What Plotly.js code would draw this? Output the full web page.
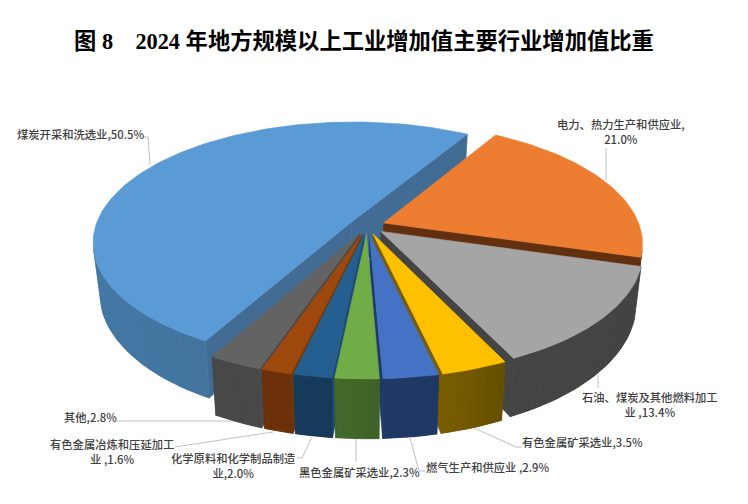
<!DOCTYPE html>
<html><head><meta charset="utf-8">
<script src="https://cdn.plot.ly/plotly-3.0.1.min.js"></script>
<style>html,body{margin:0;padding:0;background:#fff}#c{width:748px;height:504px}</style>
</head><body><div id="c"></div>
<script>
// ---- data (clockwise from first slice) ----
const categories = ['电力、热力生产和供应业','石油、煤炭及其他燃料加工业','有色金属矿采选业','燃气生产和供应业','黑色金属矿采选业','化学原料和化学制品制造业','有色金属冶炼和压延加工业','其他','煤炭开采和洗选业'];
const shares = [21.0,13.4,3.5,2.9,2.3,2.0,1.6,2.8,50.5];
const labelText = ['电力、热力生产和供应业,<br>21.0%','石油、煤炭及其他燃料加工<br>业 ,13.4%','有色金属矿采选业,3.5%','燃气生产和供应业 ,2.9%','黑色金属矿采选业,2.3%','化学原料和化学制品制造<br>业,2.0%','有色金属冶炼和压延加工<br>业 ,1.6%','其他,2.8%','煤炭开采和洗选业,50.5%'];
// ---- styles ----
const topColors = ['#ed7d31','#a5a5a5','#ffc000','#4472c4','#70ad47','#255e91','#9e480e','#636363','#5b9bd5'];
const wallFrom = ['#63300f','#444444','#7a5c00','#203864','#43682b','#163a59','#6c300a','#484848','#4b84ba'];
const wallTo   = ['#63300f','#444444','#655000','#203864','#3f6228','#163a59','#6c300a','#484848','#42749f'];
const cutColors= ['#63300f','#444444','#7a5c00','#1f3a6a','#43682b','#1c4a73','#6c3a0a','#4a4a4a','#426c93'];
// ---- view ----
const cx=367, cy=226, S=256, ST=117.7, K=0.165, H=49.3, SQ=0.024, EXPL=0.07, START=30.7;
const labelX=[621,650,582,488,359,233,112,90,80];
const labelY=[131,404,442,467,472,465,451,417,134];
const leaders=[[[606,148],[606,180]],[[598,375],[598,388]],[[474,428],[516,447],[522,447]],[[410,438],[419,471],[425,471]],[[356,438],[356,462]],[[312,437],[302,458],[297,458]],[[273,432],[175,447]],[[117,421],[237,421]],[[143,137],[148,137],[150,165]]];

function proj(u,v,z){const w=1+K*v;let x=cx+S*u/w;const y=cy-ST*v/w+H*z/w;x=cx+(x-cx)*(1-SQ*z);return [x,y];}
function hex(c){return [1,3,5].map(i=>parseInt(c.substr(i,2),16));}
function mix(a,b,t){const A=hex(a),B=hex(b);return 'rgb('+A.map((v,i)=>Math.round(v+(B[i]-v)*t)).join(',')+')';}
function area(p){let s=0;for(let i=0;i<p.length;i++){const a=p[i],b=p[(i+1)%p.length];s+=a[0]*b[1]-b[0]*a[1];}return s;}
const traces=[];
function poly(p,color,lw){traces.push({type:'scatter',mode:'lines',x:p.concat([p[0]]).map(q=>q[0]),y:p.concat([p[0]]).map(q=>q[1]),fill:'toself',fillcolor:color,line:{color:color,width:lw},hoverinfo:'skip',showlegend:false});}

const total=shares.reduce((a,b)=>a+b,0);
let acc=START;
const slices=shares.map((s,i)=>{const a0=acc,a1=acc+s/total*360;acc=a1;return {i,a0,a1,mid:(a0+a1)/2};});
slices.sort((a,b)=>Math.abs(b.mid-180)-Math.abs(a.mid-180));
slices.forEach(sl=>{
  const m=sl.mid*Math.PI/180, ox=EXPL*Math.sin(m), oy=EXPL*Math.cos(m);
  const pts=[];const n=Math.ceil((sl.a1-sl.a0)/1.5);
  for(let j=0;j<=n;j++){const t=(sl.a0+(sl.a1-sl.a0)*j/n)*Math.PI/180;pts.push([ox+Math.sin(t),oy+Math.cos(t)]);}
  const apex=[ox,oy];
  const q4=(a,b)=>[proj(a[0],a[1],0),proj(b[0],b[1],0),proj(b[0],b[1],1),proj(a[0],a[1],1)];
  const wall=(a,b,col,lw)=>{const q=q4(a,b);if(area(q)<0)poly(q,col,lw);};
  wall(pts[n],apex,cutColors[sl.i],0.6);
  wall(apex,pts[0],cutColors[sl.i],0.6);
  // solid backing for the visible part of the rim, so the gradient bands leave no seams
  const vis=[];
  for(let j=0;j<n;j++){if(area(q4(pts[j],pts[j+1]))<0){if(!vis.length)vis.push(pts[j]);vis.push(pts[j+1]);}}
  if(vis.length){const ring=vis.map(p=>proj(p[0],p[1],0)).concat(vis.slice().reverse().map(p=>proj(p[0],p[1],1)));poly(ring,mix(wallFrom[sl.i],wallTo[sl.i],0.5),0.6);}
  for(let j=0;j<n;j++){wall(pts[j],pts[j+1],mix(wallTo[sl.i],wallFrom[sl.i],j/Math.max(1,n-1)),0);}
  poly([apex].concat(pts).map(p=>proj(p[0],p[1],0)),topColors[sl.i],0.6);
});

const annotations=labelText.map((t,i)=>({x:labelX[i],y:labelY[i],xref:'x',yref:'y',text:t,showarrow:false,xanchor:'center',yanchor:'middle',align:'center',font:{family:'"Noto Sans CJK SC","Liberation Sans",sans-serif',size:11.3,color:'#404040',weight:500}}));
const shapes=leaders.map(l=>({type:'path',layer:'below',path:l.map((p,i)=>(i?'L':'M')+p[0]+','+p[1]).join(' '),line:{color:'#bfbfbf',width:1}}));

Plotly.newPlot('c',traces,{
  width:748,height:504,margin:{l:0,r:0,t:0,b:0},paper_bgcolor:'#fff',plot_bgcolor:'#fff',showlegend:false,hovermode:false,
  xaxis:{range:[0,748],visible:false,fixedrange:true},
  yaxis:{range:[504,0],visible:false,fixedrange:true},
  title:{text:'图 8 \u00a0\u00a0 2024 年地方规模以上工业增加值主要行业增加值比重',x:0.4866,xanchor:'center',y:0.918,yanchor:'middle',font:{family:'"Liberation Serif","Noto Sans CJK SC",serif',size:22.3,color:'#000',weight:700}},
  annotations,shapes
},{staticPlot:true,displayModeBar:false});
</script></body></html>
